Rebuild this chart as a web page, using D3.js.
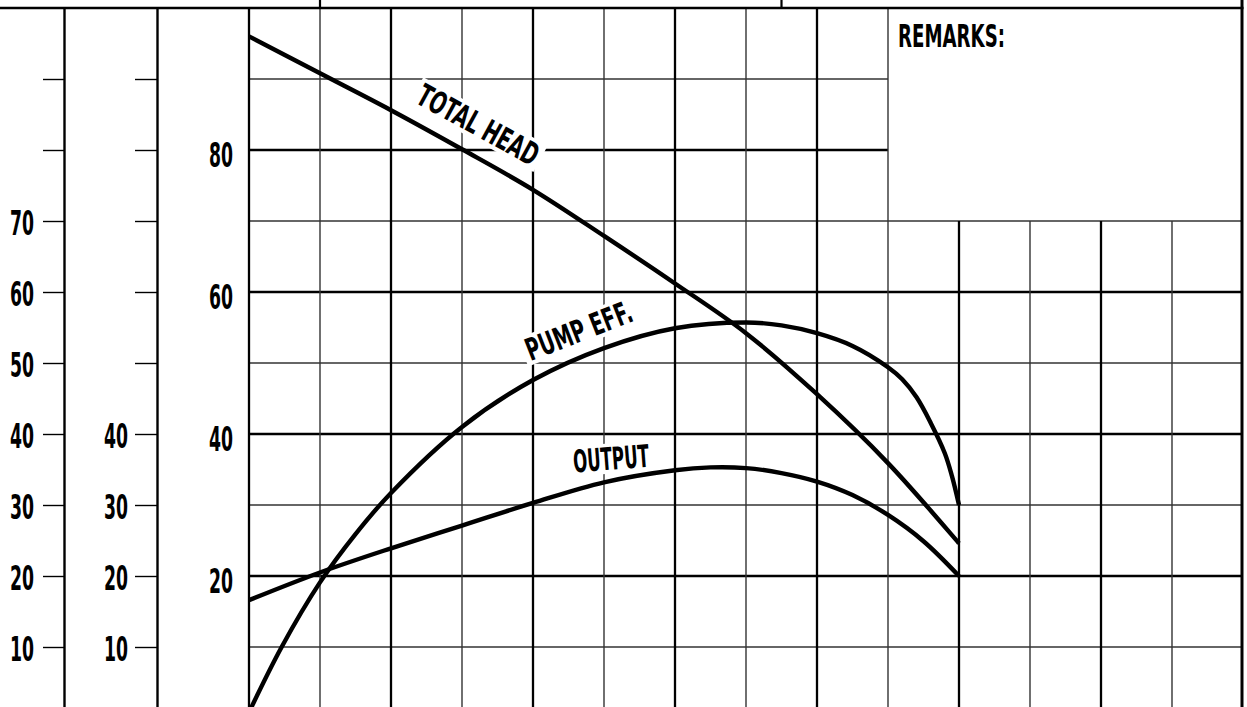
<!DOCTYPE html>
<html>
<head>
<meta charset="utf-8">
<script src="https://cdn.jsdelivr.net/npm/d3@7"></script>
<style>
  html, body { margin: 0; padding: 0; background: #fff; }
  svg { display: block; }
</style>
</head>
<body>
<svg id="chart" width="1247" height="707"></svg>
<script>
// ---------------- data ----------------
const gridColumns = d3.range(0, 14);            // grid column positions (x units)
const yTickValues = d3.range(10, 100, 10);      // tick values shared by all scales
const leftAxisLabels = [10, 20, 30, 40, 50, 60, 70];
const midAxisLabels = [10, 20, 30, 40];
const innerAxisLabels = [20, 40, 60, 80];

const headX = [0, 1, 2, 3, 4, 5, 6, 7, 8, 9, 10];
const headY = [96.0, 90.8, 85.6, 80.1, 74.4, 67.9, 61.2, 54.2, 45.6, 35.9, 24.6];

const effX = [0, 0.46, 1, 1.5, 2, 3, 4, 5, 6, 7, 7.5, 8, 8.5, 9, 9.2, 9.4, 9.6, 9.8, 9.9, 10];
const effY = [0.8, 10.0, 19.1, 25.9, 31.7, 41.0, 47.6, 52.1, 54.9, 55.7, 55.3, 54.2, 52.4, 49.4, 47.7, 45.2, 41.6, 37.3, 34.1, 30];

const outX = [0, 1, 2, 3, 4, 5, 6, 6.5, 7, 7.5, 8, 8.5, 9, 9.5, 10];
const outY = [16.6, 20.5, 23.9, 27.1, 30.3, 33.2, 34.9, 35.3, 35.2, 34.5, 33.3, 31.4, 28.6, 24.9, 20];

const curveLabels = ["TOTAL HEAD", "PUMP EFF.", "OUTPUT"];
const remarksText = "REMARKS:";

// ---------------- setup ----------------
const svg = d3.select("#chart");
const x = d3.scaleLinear().domain([0, 14]).range([249, 1243]);
const y = d3.scaleLinear().domain([0, 100]).range([718, 8]);
const FONT = "'Liberation Sans Narrow', 'Arial Narrow', 'DejaVu Sans Condensed', 'Liberation Sans', sans-serif";
const H = 707;
const rightEdge = x(14) - 1;

svg.append("rect").attr("width", 1247).attr("height", 707).attr("fill", "#fff");

// ---------------- grid ----------------
const grid = svg.append("g");
yTickValues.forEach(v => {
  const thick = v % 20 === 0;
  const x2 = v > 70 ? x(9) : rightEdge;
  grid.append("line")
    .attr("x1", x(0)).attr("x2", x2)
    .attr("y1", y(v)).attr("y2", y(v))
    .attr("stroke", thick ? "#000" : "#333")
    .attr("stroke-width", thick ? 2.3 : 1.4);
});
gridColumns.forEach(c => {
  const thick = c % 2 === 0;
  const top = c <= 9 ? y(100) : y(70);
  grid.append("line")
    .attr("x1", x(c)).attr("x2", x(c))
    .attr("y1", top).attr("y2", H)
    .attr("stroke", thick ? "#000" : "#333")
    .attr("stroke-width", thick ? 2.3 : 1.4);
});
grid.append("line").attr("x1", 0).attr("x2", rightEdge + 1.5)
  .attr("y1", y(100)).attr("y2", y(100)).attr("stroke", "#000").attr("stroke-width", 2.4);
grid.append("line").attr("x1", rightEdge).attr("x2", rightEdge)
  .attr("y1", 0).attr("y2", H).attr("stroke", "#000").attr("stroke-width", 3);
[1, 7.5].forEach(c => {
  grid.append("line").attr("x1", x(c)).attr("x2", x(c))
    .attr("y1", 0).attr("y2", y(100)).attr("stroke", "#000").attr("stroke-width", 2.2);
});

// ---------------- axes ----------------
function styleAxis(g, labels, dyOffset, drawDomain) {
  g.selectAll("text").each(function(d) {
    const t = d3.select(this);
    if (!labels.includes(d)) { t.remove(); return; }
    t.attr("dy", null)
     .attr("y", 11.8 + dyOffset)
     .attr("font-family", FONT)
     .attr("font-size", 33)
     .attr("font-weight", "bold")
     .attr("fill", "#000")
     .attr("textLength", 24)
     .attr("lengthAdjust", "spacingAndGlyphs");
  });
  g.selectAll(".tick line").attr("stroke", "#000").attr("stroke-width", 1.4);
  g.select(".domain").attr("stroke", "#000").attr("stroke-width", drawDomain ? 2.4 : 0);
}

const ax1 = svg.append("g").attr("transform", "translate(64,0)")
  .call(d3.axisLeft(y).tickValues(yTickValues).tickSize(21).tickPadding(9).tickSizeOuter(0));
styleAxis(ax1, leftAxisLabels, 1.5, true);

const ax2 = svg.append("g").attr("transform", "translate(157,0)")
  .call(d3.axisLeft(y).tickValues(yTickValues).tickSize(22).tickPadding(7).tickSizeOuter(0));
styleAxis(ax2, midAxisLabels, 2, true);

const ax3 = svg.append("g").attr("transform", "translate(249,0)")
  .call(d3.axisLeft(y).tickValues(innerAxisLabels).tickSize(0).tickPadding(16).tickSizeOuter(0));
styleAxis(ax3, innerAxisLabels, 5, false);

// ---------------- curve labels ----------------
const labelSpecs = [
  { text: curveLabels[0], cx: 3.155, cy: 82.2, angle: 28.7, len: 134 },
  { text: curveLabels[1], cx: 4.70, cy: 53.1, angle: -21.3, len: 112 },
  { text: curveLabels[2], cx: 5.11, cy: 35.0, angle: -4.5, len: 76 }
];
labelSpecs.forEach(s => {
  const g = svg.append("g")
    .attr("transform", `translate(${x(s.cx)},${y(s.cy)}) rotate(${s.angle})`);
  const rect = g.append("rect").attr("fill", "#fff");
  g.append("text")
    .attr("text-anchor", "middle")
    .attr("font-family", FONT)
    .attr("font-size", 31)
    .attr("font-weight", "bold")
    .attr("textLength", s.len)
    .attr("lengthAdjust", "spacingAndGlyphs")
    .text(s.text);
  const cap = 31 * 0.716;
  rect.attr("x", -s.len / 2 - 4).attr("y", -cap - 4)
      .attr("width", s.len + 8).attr("height", cap + 8);
});

svg.append("text")
  .attr("x", 898).attr("y", 47)
  .attr("font-family", FONT)
  .attr("font-size", 32)
  .attr("font-weight", "bold")
  .attr("textLength", 107)
  .attr("lengthAdjust", "spacingAndGlyphs")
  .text(remarksText);

// ---------------- curves ----------------
const line = d3.line().x(d => x(d[0])).y(d => y(d[1])).curve(d3.curveCatmullRom.alpha(0.5));
[[headX, headY], [effX, effY], [outX, outY]].forEach(([xs, ys]) => {
  svg.append("path")
    .datum(xs.map((v, i) => [v, ys[i]]))
    .attr("d", line)
    .attr("fill", "none")
    .attr("stroke", "#000")
    .attr("stroke-width", 4.4)
    .attr("stroke-linecap", "butt");
});
</script>
</body>
</html>
